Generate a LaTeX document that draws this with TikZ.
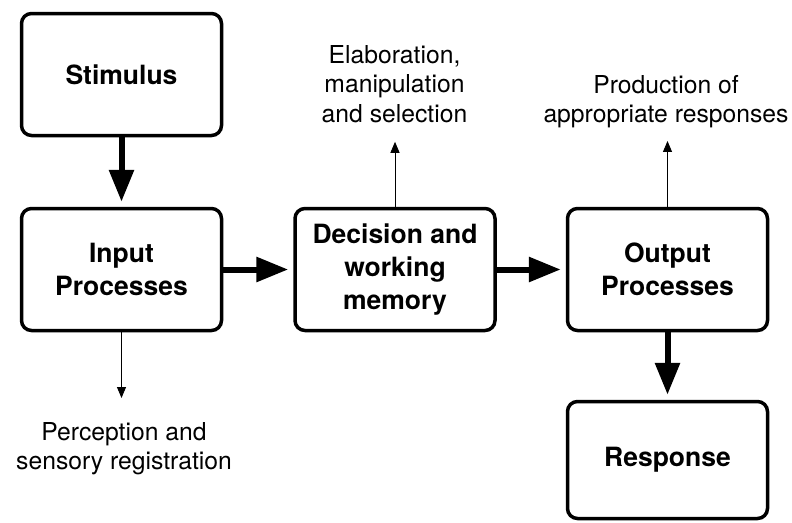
\documentclass[tikz,border=0pt]{standalone}
\usepackage{fontspec}
\setmainfont{TeX Gyre Heros}
\usepackage{tikz}
\usetikzlibrary{arrows.meta}
\usetikzlibrary{positioning}
\tikzstyle{stage}=[
        draw,
        rectangle,
        rounded corners=10pt,
        line width=3.5pt,
        minimum width=200pt,
        minimum height=122pt,
        align=center,
        font=\fontsize{26.5}{33}\selectfont\bfseries
]
\tikzstyle{note}=[align=center,inner sep=0pt,font=\fontsize{24.7}{29.5}\selectfont]
\tikzstyle{flow}=[-{Triangle[length=32pt,width=24pt]},line width=6pt,shorten >=5pt]
\tikzstyle{aside}=[-{Triangle[length=11pt,width=9pt]},line width=1pt]

\begin{document}
\begin{tikzpicture}[x=1pt,y=-1pt]
\useasboundingbox (0,0) rectangle (792,522);
\node[stage] (stim) at (121.5,74.5) {Stimulus};
\node[stage] (inp) at (121.5,269.5) {Input\\Processes};
\node[stage] (dec) at (395,269.5) {Decision and\\working\\memory};
\node[stage] (outp) at (667.5,269.5) {Output\\Processes};
\node[stage,minimum height=117pt] (resp) at (667.5,460) {Response};
\node[note,anchor=north] (elab) at (394.5,45) {Elaboration,\\manipulation\\and selection};
\node[note,anchor=north] (prod) at (666,75) {Production of\\appropriate responses};
\node[note,anchor=north] (perc) at (124,422) {Perception and\\sensory registration};
%main flow
\draw[flow] (stim) -- (inp);
\draw[flow] (inp) -- (dec);
\draw[flow] (dec) -- (outp);
\draw[flow] (outp) -- (resp);
%side notes
\draw[aside,shorten >=24pt] (inp.south) -- (inp.south |- perc.north);
\draw[aside,shorten >=19pt] (dec.north) -- (dec.north |- elab.south);
\draw[aside,shorten >=12.6pt] (outp.north) -- (outp.north |- prod.south);
\end{tikzpicture}
\end{document}
